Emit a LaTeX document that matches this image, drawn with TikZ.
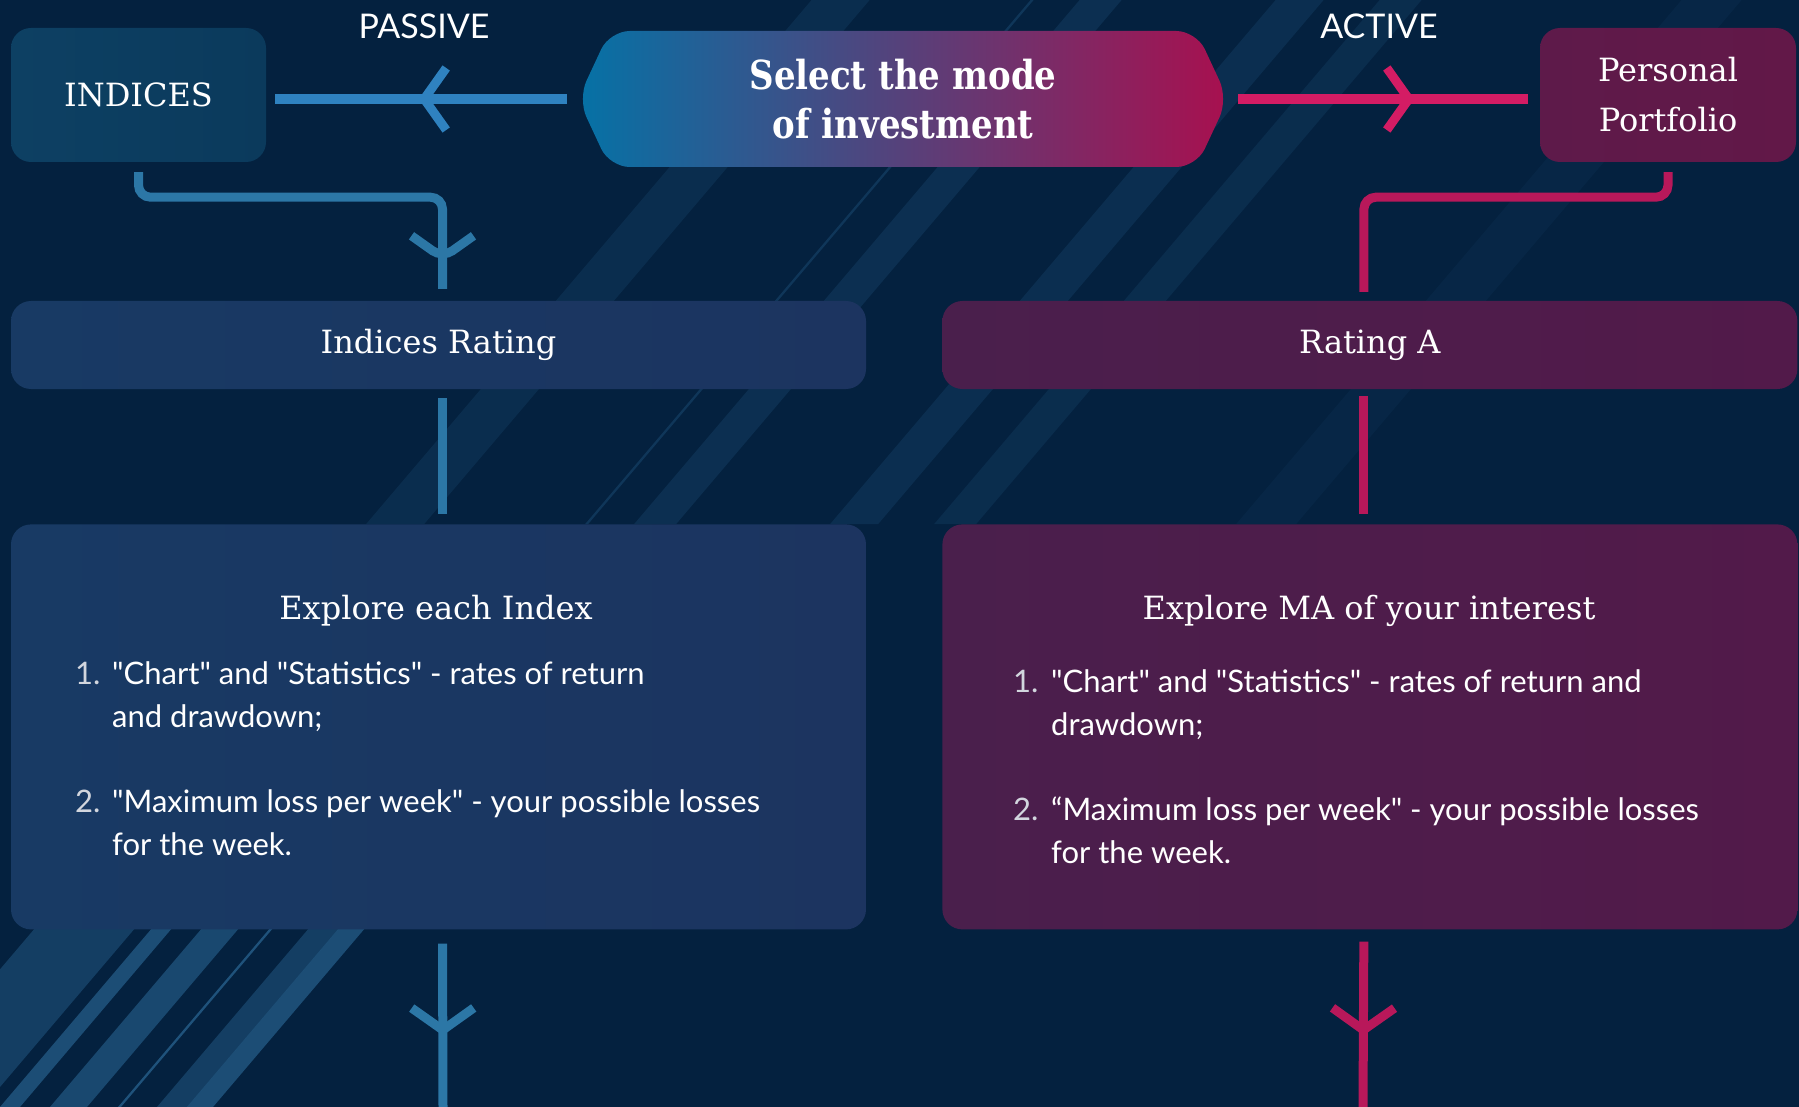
\documentclass[tikz,border=0pt]{standalone}
\usepackage{fontspec}
\usetikzlibrary{positioning, shapes.symbols, decorations.markings}

\newfontfamily\slab{DejaVu Serif}
\newfontfamily\slabB[FakeStretch=0.85]{DejaVu Serif}
\newfontfamily\sans{Lato}

\definecolor{bgC}{HTML}{04213F}
\definecolor{stripeC}{HTML}{3A84B8}
\definecolor{blueL}{HTML}{2C77A6}
\definecolor{redL}{HTML}{B8185A}
\definecolor{topB}{HTML}{2F82C0}
\definecolor{topR}{HTML}{D41C64}
\definecolor{numC}{HTML}{D2D6DE}
\definecolor{idxA}{HTML}{0D4063}
\definecolor{idxB}{HTML}{0B3A5C}
\definecolor{ppA}{HTML}{5E1A4A}
\definecolor{ppB}{HTML}{621848}
\definecolor{selA}{HTML}{0572A6}
\definecolor{selM}{HTML}{464880}
\definecolor{selB}{HTML}{A8104F}
\definecolor{blueA}{HTML}{183A64}
\definecolor{blueB}{HTML}{1C3460}
\definecolor{plumA}{HTML}{4A1F4C}
\definecolor{plumB}{HTML}{521A4A}

\begin{document}
\begin{tikzpicture}[x=1pt, y=-1pt,
	box/.style={rounded corners=20pt, inner sep=0pt, text=white, align=center, font=\slab\fontsize{32}{50}\selectfont},
	tag/.style={inner sep=0pt, text=white, font=\sans\fontsize{34}{34}\selectfont},
	head/.style={inner sep=0pt, text=white, font=\slab\fontsize{32}{40}\selectfont},
	list/.style={inner sep=0pt, text=white, anchor=base west, font=\sans\fontsize{31}{43}\selectfont},
	linkL/.style={draw=blueL, line width=9pt},
	linkR/.style={draw=redL, line width=9pt},
	chev/.style 2 args={postaction={decorate, decoration={markings,
		mark=at position #1 with {\draw[#2, line width=9pt, shorten <=0pt, shorten >=0pt] (-22,31) -- (0,0) -- (-22,-31);}}}}]

	\useasboundingbox (0,0) rectangle (1799,1107);
	\fill[bgC] (0,0) rectangle (1799,1107);

	% background stripes
	\begin{scope}
		\clip (0,0) rectangle (1799,1107);
		\foreach \x/\w/\o in {560/58/0.13, 779/3/0.22, 828/42/0.15, 1024/48/0.14, 1128/42/0.12, 1430/60/0.06}
			\fill[stripeC, opacity=\o] (\x-193.8,524) -- ++(\w,0) -- ++(445.4,-524) -- ++(-\w,0) -- cycle;
		\foreach \x/\w/\o in {-117/100/0.3, 0/20/0.45, 50/37/0.4, 118/3/0.5, 157/30/0.3, 187/26/0.45}
			\fill[stripeC, opacity=\o] (\x,1107) -- ++(\w,0) -- ++(255,-300) -- ++(-\w,0) -- cycle;
	\end{scope}

	\node [box, minimum width=255pt, minimum height=134pt, left color=idxA, right color=idxB] (idx) at (138.5,95) {INDICES};
	\node [box, minimum width=256pt, minimum height=134pt, left color=ppA, right color=ppB] (pp) at (1668,95) {Personal\\Portfolio};
	\node [box, signal, signal to=west and east, signal pointer angle=130, minimum width=650pt, minimum height=136pt,
		left color=selA, middle color=selM, right color=selB,
		font=\slabB\bfseries\fontsize{40}{49}\selectfont] (sel) at (903,99) {Select the mode\\of investment};

	\node [box, minimum width=855pt, minimum height=88pt, left color=blueA, right color=blueB] (rateL) at (438.5,345) {Indices Rating};
	\node [box, minimum width=855pt, minimum height=88pt, right=76pt of rateL, left color=plumA, right color=plumB] (rateR) {Rating A};
	\node [box, minimum width=855pt, minimum height=405pt, below=135pt of rateL, left color=blueA, right color=blueB] (expL) {};
	\node [box, minimum width=855pt, minimum height=405pt, right=76pt of expL, left color=plumA, right color=plumB] (expR) {};

	\node [tag] (passive) at (424,26) {PASSIVE};
	\node [tag] (active) at (1379,26) {ACTIVE};

	\node [head] (expLt) at (436,611) {Explore each Index};
	\node [head] (expRt) at (1369,611) {Explore MA of your interest};

	\node [list] (listL) at (75,684) {\begin{tabular}[t]{@{}p{37pt}@{}l@{}}
		\textcolor{numC}{1.} & "Chart" and "Statistics" - rates of return\\
		& and drawdown;\\[42pt]
		\textcolor{numC}{2.} & "Maximum loss per week" - your possible losses\\
		& for the week.
	\end{tabular}};
	\node [list] (listR) at (1013,692) {\begin{tabular}[t]{@{}p{38pt}@{}l@{}}
		\textcolor{numC}{1.} & "Chart" and "Statistics" - rates of return and\\
		& drawdown;\\[42pt]
		\textcolor{numC}{2.} & “Maximum loss per week" - your possible losses\\
		& for the week.
	\end{tabular}};

	\coordinate (endL) at (443,1107);
	\coordinate (endR) at (1363,1107);

	\draw[draw=topB, line width=10pt, shorten <=11pt, shorten >=9pt, chev={-158pt}{topB}] (sel.west) -- (idx.east |- sel.west);
	\draw[draw=topR, line width=10pt, shorten <=10pt, shorten >=12pt, chev={-131pt}{topR}] (sel.east) -- (pp.west |- sel.east);

	\draw[linkL, rounded corners=12pt, shorten <=10pt, shorten >=12pt, chev={-43pt}{blueL}] (idx.south) -- ++(0,35) -| ([xshift=4pt]rateL.north);
	\draw[linkR, rounded corners=12pt, shorten <=10pt, shorten >=9pt] (pp.south) -- ++(0,35) -| ([xshift=-6pt]rateR.north);

	\draw[linkL, shorten <=9pt, shorten >=10pt] ([xshift=4pt]rateL.south) -- ([xshift=4pt]expL.north);
	\draw[linkR, shorten <=7pt, shorten >=10pt] ([xshift=-6pt]rateR.south) -- ([xshift=-6pt]expR.north);

	\draw[linkL, shorten <=14pt, chev={-77pt}{blueL}] ([xshift=4pt]expL.south) -- (endL);
	\draw[linkR, shorten <=12pt, chev={-77pt}{redL}] ([xshift=-6pt]expR.south) -- (endR);
\end{tikzpicture}
\end{document}
